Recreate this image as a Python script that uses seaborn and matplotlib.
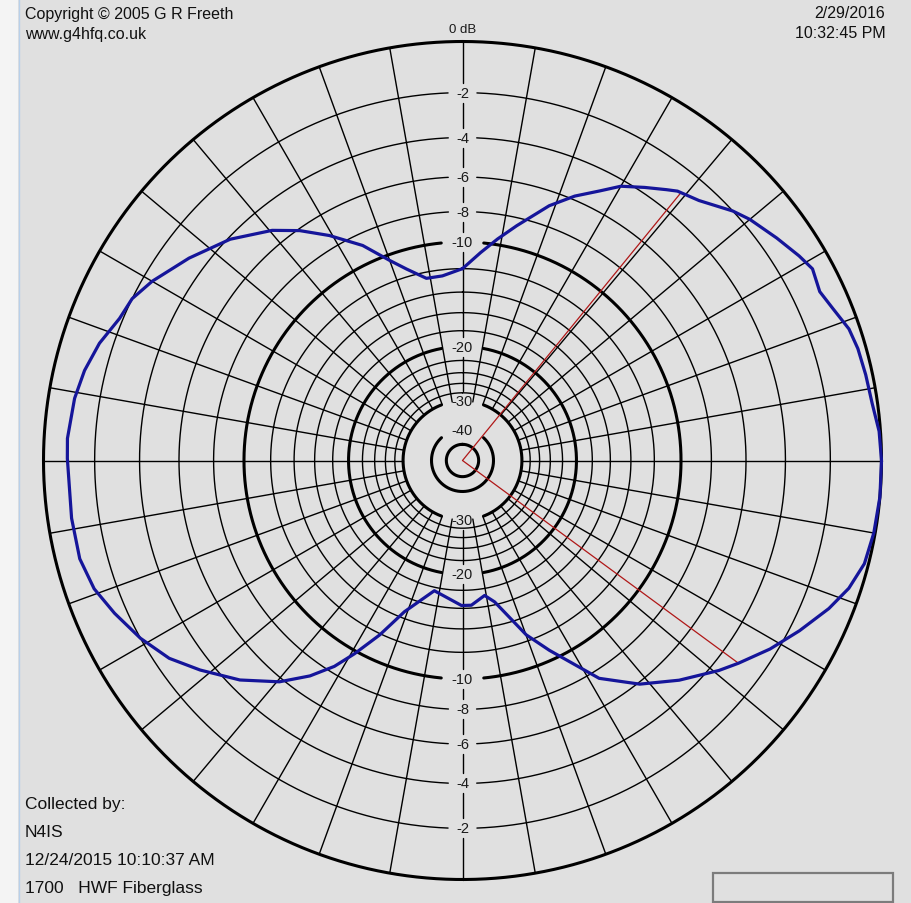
import numpy as np
import pandas as pd
import matplotlib
matplotlib.use("Agg")
import matplotlib.pyplot as plt
from matplotlib.patches import Rectangle
from matplotlib.lines import Line2D
import seaborn as sns

# Antenna pattern readings: bearing (deg, clockwise from north) and level (dB re. peak)
bearing_deg = [0, 5, 9, 13, 18.8, 23, 27, 30, 33.7, 37, 38.6, 42.3, 47.3, 50, 54.7, 58.7,
               61.3, 64.7, 67.7, 71.2, 74.2, 78, 82, 86, 90, 95, 100, 104.4, 108.3, 112,
               116.8, 121.5, 126.3, 129.3, 135.4, 141.6, 147.9, 155.4, 159.9, 167.2, 170.7,
               176.5, 180.4, 192.2, 201, 205.4, 209.2, 211.9, 215.3, 219.6, 225.4, 231.4,
               236, 241.1, 246.3, 250.8, 255.6, 261.6, 270.3, 273.2, 279.1, 283.4, 287.9,
               292.5, 296.1, 300, 306.5, 313.6, 320.4, 324.7, 329.4, 335.1, 340, 343.7,
               348.8, 353.8]
level_db = [-12.0, -10.7, -9.6, -8.5, -6.8, -5.8, -5.0, -4.3, -3.75, -3.25, -3.0, -2.7,
            -2.0, -1.7, -1.3, -0.95, -0.75, -0.9, -0.7, -0.4, -0.3, -0.25, -0.2, -0.05,
            0.0, 0.0, -0.05, -0.15, -0.45, -0.9, -1.6, -2.3, -3.1, -3.6, -4.7, -5.9, -7.5,
            -10.7, -12.5, -16.3, -17.2, -16.3, -16.3, -17.6, -14.6, -11.9, -9.8, -8.4,
            -7.1, -5.8, -4.5, -3.4, -2.6, -2.0, -1.5, -1.1, -0.9, -0.9, -0.9, -0.88,
            -0.99, -1.16, -1.44, -1.86, -2.0, -2.4, -3.2, -4.1, -5.2, -6.1, -7.25, -8.75,
            -10.4, -11.4, -12.5, -12.5]

# Half-power markers
marker_bearing = [39.2, 126.3]
marker_db = [-3.0, -3.1]

# Grid definition (dB)
major_rings = [0, -10, -20, -30, -40, -50]
minor_rings = [-2, -4, -6, -8, -12, -14, -16, -18, -22, -24, -26, -28]
top_labels = [-2, -4, -6, -8, -10, -20, -30, -40]
bottom_labels = [-2, -4, -6, -8, -10, -20, -30]
spoke_step = 10
spoke_inner_db = -30

header_left = ["Copyright \u00a9 2005 G R Freeth", "www.g4hfq.co.uk"]
header_right = ["2/29/2016", "10:32:45 PM"]
footer_left = ["Collected by:", "N4IS", "12/24/2015 10:10:37 AM", "1700   HWF Fiberglass"]

K = 0.0651  # log-periodic radial scale, per dB


def db_to_rho(db):
    return np.exp(K * np.asarray(db, dtype=float))


BG = "#e0e0e0"
INK = "#000000"
BLUE = "#15159a"
RED = "#b01818"
TXT = "#111111"
W_PX, H_PX = 911, 904
CX, CY, R = 462.5, 461.5, 419.0

sns.set_theme(style="white")
plt.rcParams["font.family"] = ["Liberation Sans", "DejaVu Sans"]

fig = plt.figure(figsize=(W_PX / 100, H_PX / 100), dpi=100, facecolor=BG)
ax = fig.add_axes([(CX - R) / W_PX, (H_PX - CY - R) / H_PX, 2 * R / W_PX, 2 * R / H_PX],
                  projection="polar")
ax.set_theta_zero_location("N")
ax.set_theta_direction(-1)
ax.set_ylim(0, 1)
ax.set_axis_off()

theta = np.linspace(0, 2 * np.pi, 4001)


def ring(db, lw, gap_top, gap_bottom):
    rpx = R * db_to_rho(db)
    rho = np.full_like(theta, db_to_rho(db))
    hw = 14 if abs(db) < 10 else 21
    xs = np.abs(rpx * np.sin(theta))
    if gap_top:
        rho[(xs < hw) & (np.cos(theta) > 0)] = np.nan
    if gap_bottom:
        rho[(xs < hw) & (np.cos(theta) < 0)] = np.nan
    ax.plot(theta, rho, color=INK, lw=lw, clip_on=False, zorder=2)


for d in minor_rings:
    ring(d, 1.0, d in top_labels, d in bottom_labels)
for d in major_rings:
    ring(d, 2.2, d in top_labels, d in bottom_labels)

# Radial spokes
r_in = db_to_rho(spoke_inner_db)
for ang in range(0, 360, spoke_step):
    t = np.deg2rad(ang)
    if ang in (0, 180):
        marks = [R * db_to_rho(d) for d in bottom_labels]
        bounds = [R] + marks
        for i in range(len(bounds) - 1):
            outer = bounds[i] - (0 if i == 0 else 10)
            inner = bounds[i + 1] + 10
            if outer > inner:
                ax.plot([t, t], [inner / R, outer / R], color=INK, lw=1.0,
                        clip_on=False, zorder=2)
    else:
        ax.plot([t, t], [r_in, 1.0], color=INK, lw=1.0, clip_on=False, zorder=2)

# Ring labels on the vertical axis
for d in top_labels:
    ax.text(0, db_to_rho(d), f"{d}", ha="center", va="center", fontsize=10.5,
            color="#1a1a1a", zorder=4)
for d in bottom_labels:
    ax.text(np.pi, db_to_rho(d), f"{d}", ha="center", va="center", fontsize=10.5,
            color="#1a1a1a", zorder=4)
ax.text(0, (R + 12) / R, "0 dB", ha="center", va="center", fontsize=9.5,
        color="#1a1a1a", clip_on=False)

# Marker lines from the centre
for b, d in zip(marker_bearing, marker_db):
    t = np.deg2rad(b)
    ax.plot([t, t], [0, db_to_rho(d)], color=RED, lw=0.9, zorder=3, clip_on=False)

# Measured pattern
df = pd.DataFrame({
    "theta": np.deg2rad(bearing_deg + [360.0]),
    "rho": db_to_rho(level_db + [level_db[0]]),
})
sns.lineplot(data=df, x="theta", y="rho", sort=False, estimator=None,
             color=BLUE, lw=2.3, ax=ax, zorder=5)
ax.lines[-1].set_clip_on(False)
ax.set_xlabel("")
ax.set_ylabel("")


def fx(x):
    return x / W_PX


def fy(y):
    return 1 - y / H_PX


# Left panel edge
fig.patches.append(Rectangle((0, 0), fx(18), 1, transform=fig.transFigure,
                             facecolor="#f4f4f4", edgecolor="none", zorder=0))
fig.lines.append(Line2D([fx(18.5), fx(18.5)], [0, 1], transform=fig.transFigure,
                        color="#b8d0ea", lw=1.0))

# Status box
fig.patches.append(Rectangle((fx(713), fy(903)), fx(893) - fx(713), fy(874) - fy(903),
                             transform=fig.transFigure, facecolor="none",
                             edgecolor="#7c7c7c", lw=1.6, zorder=1))

fs_head = 11.5
fs_foot = 12.5
for i, s in enumerate(header_left):
    fig.text(fx(25), fy(14 + 20 * i), s, ha="left", va="center", fontsize=fs_head, color=TXT)
fig.text(fx(850), fy(14), header_right[0], ha="center", va="center", fontsize=fs_head, color=TXT)
fig.text(fx(840), fy(34), header_right[1], ha="center", va="center", fontsize=fs_head, color=TXT)
for i, s in enumerate(footer_left):
    fig.text(fx(25), fy(805 + 28 * i), s, ha="left", va="center", fontsize=fs_foot, color=TXT)

fig.savefig("out.png", dpi=100, facecolor=BG)
